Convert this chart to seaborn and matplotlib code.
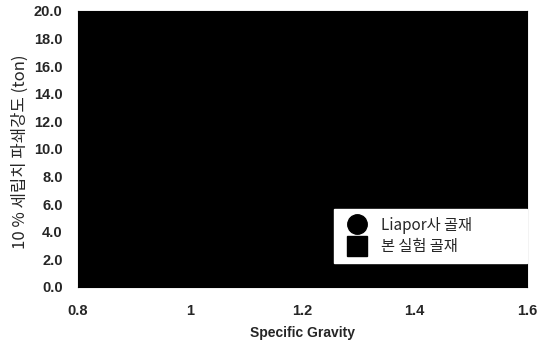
import pandas as pd
import numpy as np
import matplotlib.pyplot as plt
import seaborn as sns
from matplotlib.lines import Line2D

# Points estimated from the faint marks left in the dark scan
liapor_sg = [0.84, 0.85, 0.93, 0.96, 1.00, 0.95, 0.98, 1.03, 1.03, 1.08, 1.11]
liapor_strength = [14.0, 18.0, 18.0, 12.0, 18.0, 12.0, 12.0, 14.0, 6.0, 17.8, 17.8]
exp_sg = [1.20, 1.25, 1.30, 1.34, 1.36, 1.38, 1.40, 1.42, 1.45, 1.48, 1.38, 1.45, 1.50]
exp_strength = [14.0, 12.0, 12.0, 17.8, 12.0, 16.0, 12.0, 17.8, 12.0, 17.8, 10.0, 10.0, 19.5]

group_labels = ['Liapor사 골재', '본 실험 골재']
x_ticks = [0.8, 1.0, 1.2, 1.4, 1.6]
x_ticklabels = ['0.8', '1', '1.2', '1.4', '1.6']
y_ticks = [0, 2, 4, 6, 8, 10, 12, 14, 16, 18, 20]

df = pd.DataFrame({
    'sg': liapor_sg + exp_sg,
    'strength': liapor_strength + exp_strength,
    'group': [group_labels[0]] * len(liapor_sg) + [group_labels[1]] * len(exp_sg),
})

sns.set_style('white')
plt.rcParams['font.family'] = ['Liberation Sans', 'Noto Sans CJK KR', 'DejaVu Sans']

fig = plt.figure(figsize=(5.39, 3.45), dpi=100)
ax = fig.add_axes([78 / 539, 1 - 287 / 345, (527 - 78) / 539, (287 - 11) / 345])
ax.set_facecolor('black')

sns.scatterplot(data=df, x='sg', y='strength', hue='group', style='group',
                markers={group_labels[0]: 'o', group_labels[1]: 's'},
                palette={g: 'black' for g in group_labels}, s=60,
                edgecolor='black', legend=False, ax=ax)

ax.set_xlim(0.8, 1.6)
ax.set_ylim(0, 20)
ax.set_xticks(x_ticks)
ax.set_xticklabels(x_ticklabels)
ax.set_yticks(y_ticks)
ax.set_yticklabels([f'{v:.1f}' for v in y_ticks])
ax.tick_params(axis='y', length=0, labelsize=10.5, pad=11)
ax.tick_params(axis='x', length=0, labelsize=10.5, pad=12)
for lbl in ax.get_xticklabels() + ax.get_yticklabels():
    lbl.set_fontweight('bold')

ax.set_xlabel('Specific Gravity', fontsize=10, fontweight='bold')
ax.xaxis.set_label_coords(0.5, -0.141)
ax.set_ylabel('10 % 세립치 파쇄강도 (ton)', fontsize=12,
              family=['Noto Sans CJK KR', 'DejaVu Sans'])
ax.yaxis.set_label_coords(-0.129, 0.489)
ax.yaxis.label.set_verticalalignment('center')
for sp in ax.spines.values():
    sp.set_color('black')

handles = [
    Line2D([], [], marker='o', color='black', linestyle='', markersize=14),
    Line2D([], [], marker='s', color='black', linestyle='', markersize=14),
]
leg = ax.legend(handles, group_labels, loc='lower left',
                bbox_to_anchor=(0.570, 0.087, 0.43, 0.1), mode='expand',
                borderaxespad=0, frameon=True, fancybox=False, framealpha=1,
                borderpad=0.5, handlelength=2.0, handletextpad=0.6,
                labelspacing=0.3,
                prop={'family': ['Noto Sans CJK KR', 'DejaVu Sans'], 'size': 11,
                      'weight': 'medium'})
leg.get_frame().set_facecolor('white')
leg.get_frame().set_edgecolor('white')

fig.savefig('out.png', dpi=100, facecolor='white')
